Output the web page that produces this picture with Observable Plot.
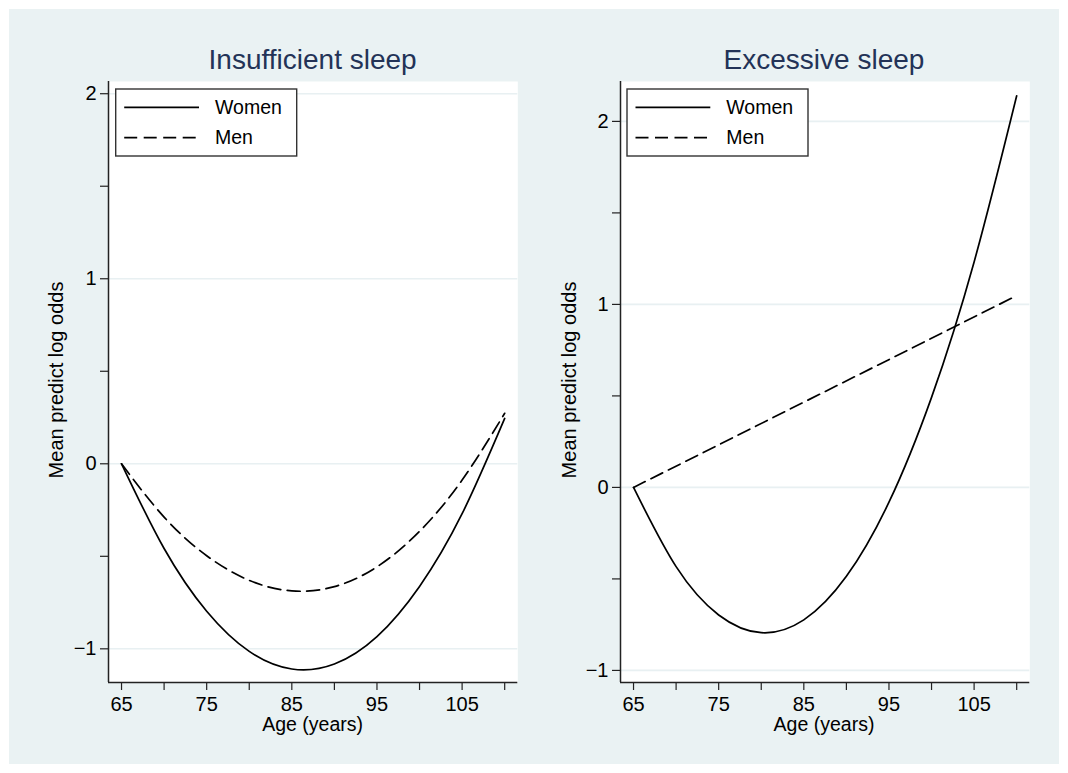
<!DOCTYPE html>
<html>
<head>
<meta charset="utf-8">
<script src="https://cdn.jsdelivr.net/npm/d3@7"></script>
<script src="https://cdn.jsdelivr.net/npm/@observablehq/plot@0.6"></script>
<style>
  html, body { margin: 0; padding: 0; background: white; }
  #wrap { position: relative; width: 1068px; height: 773px; background: white; overflow: hidden;
          font-family: "Liberation Sans", Arial, Helvetica, sans-serif; }
  #bg { position: absolute; left: 9px; top: 9px; width: 1050px; height: 755px; background: #eaf2f3; }
  .panel { position: absolute; top: 75px; }
  #overlay { position: absolute; left: 0; top: 0; pointer-events: none; }
</style>
</head>
<body>
<div id="wrap">
  <div id="bg"></div>
  <div id="left" class="panel" style="left:20px"></div>
  <div id="right" class="panel" style="left:532px"></div>
  <svg id="overlay" width="1068" height="773"></svg>
</div>
<script>
// ---- data ----
const panelTitles = ["Insufficient sleep", "Excessive sleep"];
const seriesNames = ["Women", "Men"];
const xTitle = "Age (years)";
const yTitle = "Mean predict log odds";

const ages = [65, 70, 75, 80, 85, 90, 95, 100, 105, 110];
const insufficientWomen = [0, -0.458, -0.797, -1.014, -1.109, -1.082, -0.934, -0.663, -0.270, 0.245];
const insufficientMen   = [0, -0.288, -0.497, -0.630, -0.687, -0.664, -0.557, -0.365, -0.088, 0.273];
const excessiveWomen    = [0, -0.433, -0.697, -0.794, -0.724, -0.486, -0.081, 0.492, 1.232, 2.140];
const excessiveMenAges  = [65, 110];
const excessiveMen      = [0, 1.048];

const xMajorTicks = [65, 75, 85, 95, 105];
const xMinorTicks = [70, 80, 90, 100, 110];
const yMajorTicks = [-1, 0, 1, 2];
const yMinorTicks = [-0.5, 0.5, 1.5];

// ---- scale domains (axis ranges of each panel) ----
const xDomain = [63.47, 111.54];
const yDomainLeft = [-1.182, 2.066];
const yDomainRight = [-1.066, 2.218];

function rows(xs, ys) { return xs.map((x, i) => ({age: x, v: ys[i]})); }

const intFmt = d3.format("d");

function panel(women, men, yDomain) {
  return Plot.plot({
    width: 510,
    height: 650,
    marginLeft: 88,
    marginRight: 12.7,
    marginTop: 6,
    marginBottom: 43,
    x: {domain: xDomain},
    y: {domain: yDomain},
    style: {background: "transparent", fontFamily: "'Liberation Sans', Arial, sans-serif", fontSize: "19.5px", color: "black", overflow: "visible"},
    marks: [
      Plot.frame({fill: "white", stroke: "none"}),
      Plot.gridY(yMajorTicks, {stroke: "#e8f0f2", strokeOpacity: 1, strokeWidth: 1.6}),
      Plot.line(women, {x: "age", y: "v", curve: "natural", stroke: "black", strokeWidth: 1.7}),
      Plot.line(men, {x: "age", y: "v", curve: "natural", stroke: "black", strokeWidth: 1.7, strokeDasharray: "13,6.5"}),
      Plot.ruleX([xDomain[0]], {stroke: "#222", strokeWidth: 1.5}),
      Plot.ruleY([yDomain[0]], {stroke: "#222", strokeWidth: 1.5}),
      Plot.axisX(xMajorTicks, {tickSize: 8, tickPadding: 6, label: null, tickFormat: intFmt, fontSize: 20, strokeWidth: 1.2, stroke: "#222"}),
      Plot.axisX(xMinorTicks, {tickSize: 8, label: null, tickFormat: () => "", strokeWidth: 1.2, stroke: "#222"}),
      Plot.axisY(yMajorTicks, {tickSize: 8, tickPadding: 4, label: null, tickFormat: intFmt, fontSize: 20, strokeWidth: 1.2, stroke: "#222"}),
      Plot.axisY(yMinorTicks, {tickSize: 8, label: null, tickFormat: () => "", strokeWidth: 1.2, stroke: "#222"})
    ]
  });
}

document.getElementById("left").append(
  panel(rows(ages, insufficientWomen), rows(ages, insufficientMen), yDomainLeft));
document.getElementById("right").append(
  panel(rows(ages, excessiveWomen), rows(excessiveMenAges, excessiveMen), yDomainRight));

// ---- titles, axis titles and legends ----
const ov = d3.select("#overlay");
const font = "'Liberation Sans', Arial, sans-serif";
const layout = [
  {cx: 312.6, yTitleX: 62.5, legendX: 115.7},
  {cx: 824,   yTitleX: 575.5, legendX: 627}
];
layout.forEach((p, i) => {
  ov.append("text").attr("x", p.cx).attr("y", 69.3).attr("text-anchor", "middle")
    .attr("font-family", font).attr("font-size", 28).attr("fill", "#233357").text(panelTitles[i]);
  ov.append("text").attr("x", p.cx).attr("y", 731).attr("text-anchor", "middle")
    .attr("font-family", font).attr("font-size", 19.5).attr("fill", "black").text(xTitle);
  ov.append("text").attr("transform", `translate(${p.yTitleX},380) rotate(-90)`).attr("text-anchor", "middle")
    .attr("font-family", font).attr("font-size", 20).attr("fill", "black").text(yTitle);
  const g = ov.append("g").attr("transform", `translate(${p.legendX},89)`);
  g.append("rect").attr("x", 0).attr("y", 0).attr("width", 181).attr("height", 67)
    .attr("fill", "white").attr("stroke", "#333").attr("stroke-width", 1.4);
  [0, 1].forEach(k => {
    const ly = k === 0 ? 18.3 : 48.7;
    g.append("line").attr("x1", 8.5).attr("x2", 83.3).attr("y1", ly).attr("y2", ly)
      .attr("stroke", "black").attr("stroke-width", 1.7)
      .attr("stroke-dasharray", k === 0 ? null : "13,6.5");
    g.append("text").attr("x", 99.3).attr("y", k === 0 ? 25 : 55.3)
      .attr("font-family", font).attr("font-size", 19.5).attr("fill", "black").text(seriesNames[k]);
  });
});
</script>
</body>
</html>
